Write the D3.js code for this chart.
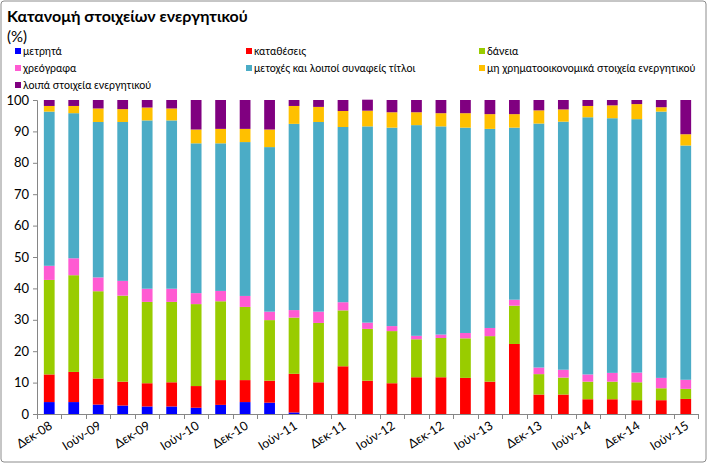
<!DOCTYPE html>
<html><head><meta charset="utf-8">
<script src="https://cdn.jsdelivr.net/npm/d3@7"></script>
<style>body{margin:0;background:#fff}svg{display:block}text{font-family:Lato,"Open Sans",sans-serif}</style>
</head><body><svg id="c" width="708" height="464"></svg>
<script>
const categories = ["Δεκ-08","Μαρ-09","Ιούν-09","Σεπ-09","Δεκ-09","Μαρ-10","Ιούν-10","Σεπ-10","Δεκ-10","Μαρ-11","Ιούν-11","Σεπ-11","Δεκ-11","Μαρ-12","Ιούν-12","Σεπ-12","Δεκ-12","Μαρ-13","Ιούν-13","Σεπ-13","Δεκ-13","Μαρ-14","Ιούν-14","Σεπ-14","Δεκ-14","Μαρ-15","Ιούν-15"];
const seriesNames = ["μετρητά","καταθέσεις","δάνεια","χρεόγραφα","μετοχές και λοιποί συναφείς τίτλοι","μη χρηματοοικονομικά  στοιχεία ενεργητικού","λοιπά στοιχεία ενεργητικού"];
const seriesColors = ["#0000FF","#FF0000","#99CC00","#FF5BD2","#4BACC6","#FFC000","#800080"];
const cash      = [3.8,3.8,3.0,2.7,2.4,2.4,2.0,2.9,3.8,3.6,0.5,0,0,0,0,0,0,0,0,0,0,0,0,0,0,0,0];
const deposits  = [8.8,9.6,8.3,7.6,7.4,7.7,6.9,7.9,7.0,7.0,12.3,10.1,15.2,10.6,9.8,11.7,11.7,11.5,10.3,22.3,6.2,6.2,4.7,4.7,4.4,4.4,4.8];
const loans     = [30.1,30.8,27.8,27.4,25.9,25.6,26.1,25.1,23.3,19.3,17.9,18.9,17.8,16.5,16.6,12.1,12.5,12.6,14.5,12.2,6.5,5.4,5.6,5.6,5.7,3.8,3.2];
const bonds     = [4.5,5.4,4.4,4.7,4.2,4.2,3.5,3.3,3.5,2.7,2.4,3.6,2.6,2.0,1.6,1.1,1.1,1.7,2.6,1.9,2.1,2.5,2.3,2.8,3.1,3.3,2.9];
const shares    = [49.1,46.2,49.5,50.6,53.6,53.6,47.7,47.0,49.0,52.4,59.3,60.4,55.8,62.5,63.2,67.1,66.3,65.4,63.4,54.8,77.7,79.0,81.9,81.1,80.7,84.8,74.6];
const nonFin    = [1.8,2.3,4.3,4.1,4.1,3.8,4.4,4.6,4.2,5.6,5.7,4.8,5.1,5.0,4.9,4.1,4.2,4.6,4.7,4.3,4.2,3.9,3.6,4.1,4.8,1.4,3.6];
const other     = [1.9,1.9,2.7,2.9,2.4,2.7,9.4,9.2,9.2,9.4,1.9,2.2,3.5,3.5,3.9,3.9,4.2,4.2,4.5,4.5,3.3,3.0,1.9,1.7,1.3,2.3,10.9];
const yTicks = [0,10,20,30,40,50,60,70,80,90,100];

const seriesData = [cash,deposits,loans,bonds,shares,nonFin,other];
const keys = seriesNames;
const rows = categories.map((c,i)=>{const r={cat:c}; keys.forEach((k,j)=>r[k]=seriesData[j][i]); return r;});
const stacked = d3.stack().keys(keys)(rows);

const svg = d3.select("#c");
svg.append("rect").attr("x",1).attr("y",1).attr("width",705).attr("height",461).attr("rx",3)
  .attr("fill","#fff").attr("stroke","#8c8c8c").attr("stroke-width",1);

const m = {l:37, r:698, t:100, b:414};
const x = d3.scaleBand().domain(categories).range([m.l,m.r]).paddingInner(0.56).paddingOuter(0.28);
const y = d3.scaleLinear().domain([0,100]).range([m.b,m.t]);

// title
svg.append("text").attr("x",7).attr("y",22).attr("font-size",16).attr("font-weight","bold").attr("fill","#000")
  .text("Κατανομή στοιχείων ενεργητικού");
svg.append("text").attr("x",7).attr("y",42).attr("font-size",15).attr("fill","#000").text("(%)");

// legend
const legPos = [[14,52],[245,52],[478,52],[14,69],[245,69],[478,69],[14,86]];
const leg = svg.append("g");
keys.forEach((k,i)=>{
  const [lx,ly]=legPos[i];
  leg.append("rect").attr("x",lx+1).attr("y",ly-4).attr("width",6).attr("height",6).attr("fill",seriesColors[i]);
  leg.append("text").attr("x",lx+9).attr("y",ly+3).attr("font-size",10.6).attr("fill","#000").text(k);
});

// bars
svg.append("g").selectAll("g").data(stacked).join("g").attr("fill",(d,i)=>seriesColors[i])
  .selectAll("rect").data(d=>d).join("rect")
  .attr("x",d=>x(d.data.cat)).attr("width",x.bandwidth())
  .attr("y",d=>y(d[1])).attr("height",d=>Math.max(0,y(d[0])-y(d[1])));

// y axis
const ya = svg.append("g").attr("transform",`translate(${m.l},0)`)
  .call(d3.axisLeft(y).tickValues(yTicks).tickSize(4).tickPadding(4));
ya.select(".domain").attr("stroke","#868686");
ya.selectAll(".tick line").attr("stroke","#868686");
ya.selectAll(".tick text").attr("font-size",13).attr("fill","#000").attr("font-family","Lato, sans-serif");

// x axis
const step = x.step();
const xg = svg.append("g");
xg.append("line").attr("x1",m.l).attr("x2",m.r).attr("y1",m.b+0.5).attr("y2",m.b+0.5).attr("stroke","#868686");
d3.range(categories.length+1).forEach(i=>{
  const px = Math.round(m.l + i*step)+0.5;
  xg.append("line").attr("x1",px).attr("x2",px).attr("y1",m.b).attr("y2",m.b+5).attr("stroke","#868686");
});
categories.forEach((c,i)=>{
  if(i%2!==0) return;
  const cx = x(c)+x.bandwidth()/2;
  xg.append("text").attr("transform",`translate(${cx+4},${m.b+14}) rotate(-32)`)
    .attr("text-anchor","end").attr("font-size",12.5).attr("fill","#000").text(c);
});
</script></body></html>
